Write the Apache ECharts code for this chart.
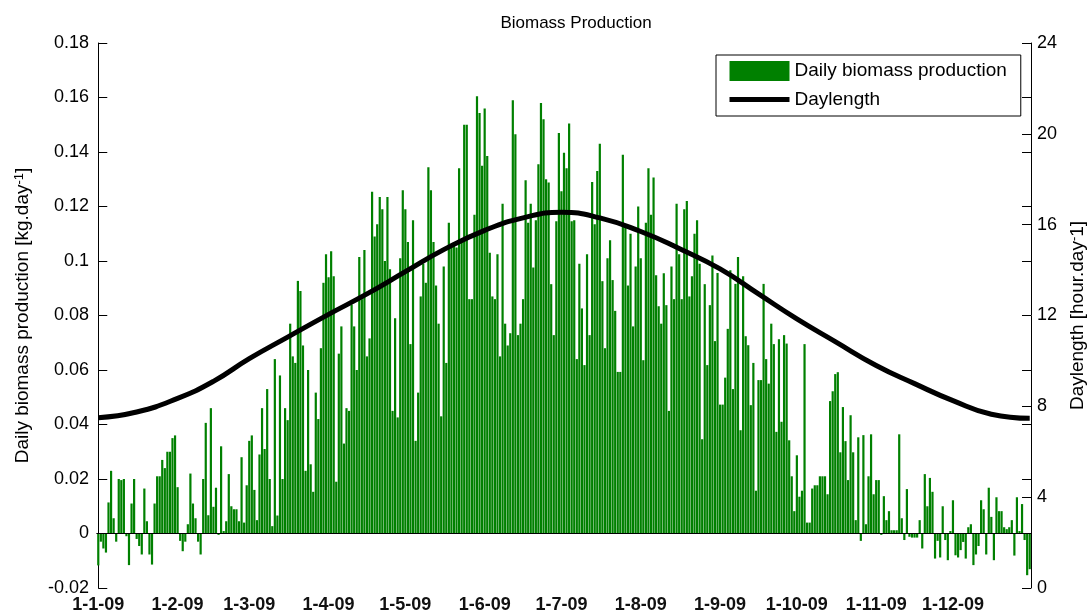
<!DOCTYPE html>
<html>
<head>
<meta charset="utf-8">
<title>Biomass Production</title>
<script src="https://cdn.jsdelivr.net/npm/echarts@6/dist/echarts.min.js"></script>
<style>
html, body { margin: 0; padding: 0; background: #fff; }
#main { width: 1092px; height: 616px; }
</style>
</head>
<body>
<div id="main"></div>
<script>
// 月份天数和x轴刻度标签
var monthDays = [31, 28, 31, 30, 31, 30, 31, 31, 30, 31, 30, 31];
var monthLabels = ['1-1-09', '1-2-09', '1-3-09', '1-4-09', '1-5-09', '1-6-09',
                   '1-7-09', '1-8-09', '1-9-09', '1-10-09', '1-11-09', '1-12-09'];
var leftTicks = [-0.02, 0.18, 0.02];   // min, max, interval
var rightTicks = [0, 24, 4];

// 每日生物量 kg/day (2009-01-01 .. 2009-12-31)
var biomass = [
  -0.0117, -0.003, -0.0055, -0.007, 0.0114, 0.023, 0.0056, -0.003, 0.020, 0.0196,
  0.020, -0.001, -0.0116, 0.011, 0.020, -0.002, -0.0046, -0.0077, 0.0165, 0.0045,
  -0.0077, -0.0114, 0.011, 0.021, 0.021, 0.027, 0.024, 0.030, 0.030, 0.035,
  0.036, 0.017, -0.0027, -0.0065, -0.003, 0.0034, 0.022, 0.011, 0.0056, -0.003,
  -0.0077, 0.020, 0.0406, 0.0067, 0.046, 0.0098, 0.0168, -0.0005, 0.032, 0.0009,
  0.0045, 0.0218, 0.010, 0.0089, 0.0089, 0.0045, 0.028, 0.004, 0.0177, 0.034,
  0.036, 0.016, 0.0049, 0.029, 0.046, 0.031, 0.053, 0.020, 0.0027, 0.064,
  0.0066, 0.058, 0.020, 0.046, 0.0416, 0.077, 0.065, 0.0626, 0.0927, 0.089,
  0.069, 0.023, 0.060, 0.0254, 0.0153, 0.0517, 0.042, 0.068, 0.092, 0.1025,
  0.094, 0.1036, 0.0944, 0.019, 0.066, 0.076, 0.033, 0.046, 0.045, 0.084,
  0.076, 0.060, 0.1015, 0.086, 0.104, 0.065, 0.0716, 0.1254, 0.109, 0.1135,
  0.1235, 0.119, 0.100, 0.1235, 0.097, 0.045, 0.079, 0.0426, 0.101, 0.126,
  0.119, 0.107, 0.0695, 0.115, 0.034, 0.0517, 0.087, 0.099, 0.092, 0.1344,
  0.126, 0.107, 0.091, 0.077, 0.043, 0.098, 0.0626, 0.114, 0.106, 0.107,
  0.105, 0.134, 0.107, 0.150, 0.150, 0.086, 0.086, 0.117, 0.1605, 0.1543,
  0.135, 0.156, 0.1385, 0.103, 0.087, 0.086, 0.1025, 0.065, 0.121, 0.077,
  0.069, 0.0735, 0.159, 0.1465, 0.0728, 0.077, 0.086, 0.1296, 0.114, 0.121,
  0.0976, 0.115, 0.1355, 0.158, 0.152, 0.130, 0.1288, 0.0915, 0.0728, 0.1146,
  0.147, 0.1256, 0.1397, 0.134, 0.1505, 0.1146, 0.115, 0.064, 0.099, 0.0826,
  0.0618, 0.1025, 0.0728, 0.129, 0.1135, 0.133, 0.143, 0.0926, 0.068, 0.101,
  0.1076, 0.093, 0.0817, 0.0593, 0.0593, 0.139, 0.1125, 0.091, 0.110, 0.076,
  0.098, 0.120, 0.101, 0.0636, 0.114, 0.134, 0.117, 0.1306, 0.0948, 0.0834,
  0.077, 0.0955, 0.0838, 0.045, 0.098, 0.086, 0.121, 0.1025, 0.086, 0.119,
  0.122, 0.087, 0.0944, 0.110, 0.115, 0.099, 0.0346, 0.0915, 0.0618, 0.0838,
  0.102, 0.0706, 0.0956, 0.0473, 0.0473, 0.0572, 0.0751, 0.0966, 0.053, 0.0916,
  0.1015, 0.0379, 0.0944, 0.0724, 0.0691, 0.0471, 0.0626, 0.0157, 0.0563, 0.0563,
  0.0916, 0.064, 0.055, 0.077, 0.0695, 0.0373, 0.0713, 0.041, 0.0728, 0.0697,
  0.0342, 0.021, 0.0082, 0.0287, 0.0135, 0.0157, 0.0695, 0.004, 0.004, 0.0165,
  0.0177, 0.0177, 0.021, 0.021, 0.021, 0.0144, 0.0486, 0.0522, 0.0585, 0.0592,
  0.0298, 0.0464, 0.0339, 0.0196, 0.0434, 0.0298, 0.0049, 0.0353, -0.0027, 0.0361,
  0.0034, 0.021, 0.0364, 0.0144, 0.0196, 0.0196, -0.0005, 0.0137, 0.0049, 0.0082,
  0.0012, 0.0012, 0.0012, 0.0364, 0.0056, -0.0024, 0.0163, -0.0012, -0.0015, -0.0015,
  -0.0015, 0.0049, -0.0055, 0.0218, 0.010, 0.0204, 0.0153, -0.0092, -0.0027, -0.0088,
  0.010, -0.0024, -0.0098, 0.0009, 0.0122, -0.008, -0.0088, -0.0061, -0.0031, -0.0092,
  0.0023, 0.0034, -0.0116, -0.0077, -0.0046, 0.0122, 0.0089, -0.0077, 0.0168, 0.0061,
  -0.0098, 0.0133, 0.0082, 0.0082, 0.0023, 0.0016, 0.0023, 0.0049, -0.0081, 0.0133,
  0.0009, 0.0108, -0.0024, -0.0153, -0.0131
];

// 日照时长 hour/day, 按天序号取样
var dayIndex = [0, 15, 31, 45, 59, 74, 90, 105, 120, 135, 151, 166, 181,
                196, 212, 227, 243, 258, 273, 288, 304, 319, 334, 349, 364];
var dayHours = [7.50, 7.75, 8.35, 9.1, 10.1, 11.05, 12.05, 12.95, 13.93, 14.9, 15.75, 16.3, 16.55,
                16.3, 15.7, 14.95, 14.05, 12.95, 11.85, 10.85, 9.8, 9.0, 8.25, 7.65, 7.47];

// 组装日期类目
var days = [];
for (var m = 0; m < 12; m++) {
  for (var d = 1; d <= monthDays[m]; d++) {
    days.push(d + '-' + (m + 1) + '-09');
  }
}
var dayLine = [];
for (var i = 0; i < dayIndex.length; i++) {
  dayLine.push([dayIndex[i], dayHours[i]]);
}

function isMonthStart(index, value) {
  return monthLabels.indexOf(value) >= 0;
}

var font = 'Liberation Sans, Arial, sans-serif';
var myChart = echarts.init(document.getElementById('main'));

var option = {
  animation: false,
  backgroundColor: '#fff',
  textStyle: { fontFamily: font, color: '#000' },
  title: {
    text: 'Biomass Production',
    left: 571,
    textAlign: 'center',
    top: 10,
    textStyle: { fontFamily: font, fontSize: 17, fontWeight: 'normal', color: '#000' }
  },
  legend: {
    orient: 'vertical',
    left: 716,
    top: 55,
    padding: [6, 14, 7, 11],
    itemGap: 9,
    itemWidth: 60,
    itemHeight: 20,
    backgroundColor: '#fff',
    borderColor: '#000',
    borderWidth: 1,
    borderRadius: 0,
    lineStyle: { width: 5 },
    textStyle: { fontFamily: font, fontSize: 19, color: '#000' },
    data: [
      { name: 'Daily biomass production', icon: 'rect' },
      // 图例里不要圆点
      { name: 'Daylength', itemStyle: { color: 'rgba(0,0,0,0)', borderColor: 'rgba(0,0,0,0)', borderWidth: 0 } }
    ]
  },
  grid: { left: 97, right: 61, top: 43, bottom: 28, containLabel: false, outerBoundsMode: 'none' },
  xAxis: [
    {
      type: 'category',
      data: days,
      position: 'bottom',
      boundaryGap: true,
      axisLine: { lineStyle: { color: '#000', width: 1 } },
      axisTick: { inside: true, length: 9, interval: isMonthStart, alignWithLabel: true,
                  lineStyle: { color: '#000' } },
      axisLabel: { interval: isMonthStart, margin: 8, fontFamily: font, fontSize: 18,
                   fontWeight: 'bold', color: '#111' },
      splitLine: { show: false }
    },
    {
      type: 'value',
      min: -0.5,
      max: 364.5,
      show: false
    },
    {
      type: 'category',
      data: days,
      position: 'top',
      boundaryGap: true,
      axisLine: { lineStyle: { color: '#000', width: 1 } },
      axisTick: { inside: true, length: 9, interval: isMonthStart, alignWithLabel: true,
                  lineStyle: { color: '#000' } },
      axisLabel: { show: false },
      splitLine: { show: false }
    }
  ],
  yAxis: [
    {
      type: 'value',
      position: 'left',
      min: leftTicks[0],
      max: leftTicks[1],
      interval: leftTicks[2],
      name: 'Daily biomass production [kg.day{sup|-1}]',
      nameLocation: 'middle',
      nameRotate: 90,
      nameGap: 65,
      nameTextStyle: {
        fontFamily: font, fontSize: 19, color: '#000',
        rich: { sup: { fontFamily: font, fontSize: 13, verticalAlign: 'top', color: '#000' } }
      },
      axisLine: { show: true, lineStyle: { color: '#000', width: 1 } },
      axisTick: { show: true, inside: true, length: 9, lineStyle: { color: '#000' } },
      axisLabel: { margin: 8, fontFamily: font, fontSize: 18, color: '#000' },
      splitLine: { show: false }
    },
    {
      type: 'value',
      position: 'right',
      min: rightTicks[0],
      max: rightTicks[1],
      interval: rightTicks[2],
      name: 'Daylength [hour.day{sup|-}1]',
      nameLocation: 'middle',
      nameRotate: 90,
      nameGap: 36,
      nameTextStyle: {
        fontFamily: font, fontSize: 19, color: '#000',
        rich: { sup: { fontFamily: font, fontSize: 13, verticalAlign: 'top', color: '#000' } }
      },
      axisLine: { show: true, lineStyle: { color: '#000', width: 1 } },
      axisTick: { show: true, inside: true, length: 9, lineStyle: { color: '#000' } },
      axisLabel: { margin: 6, fontFamily: font, fontSize: 18, color: '#000' },
      splitLine: { show: false }
    },
    {
      // 左轴刻度在右侧的镜像
      type: 'value',
      position: 'right',
      min: leftTicks[0],
      max: leftTicks[1],
      interval: leftTicks[2],
      axisLine: { show: false },
      axisTick: { show: true, inside: true, length: 9, lineStyle: { color: '#000' } },
      axisLabel: { show: false },
      splitLine: { show: false }
    }
  ],
  series: [
    {
      name: 'Daily biomass production',
      type: 'bar',
      xAxisIndex: 0,
      yAxisIndex: 0,
      data: biomass,
      barWidth: '86%',
      itemStyle: { color: '#008000' },
      markLine: {
        silent: true,
        symbol: ['none', 'none'],
        label: { show: false },
        lineStyle: { color: '#000', width: 1, type: 'solid' },
        data: [{ yAxis: 0 }]
      }
    },
    {
      name: 'Daylength',
      type: 'line',
      xAxisIndex: 1,
      yAxisIndex: 1,
      data: dayLine,
      smooth: true,
      symbol: 'none',
      lineStyle: { color: '#000', width: 5 },
      itemStyle: { color: '#000' },
      z: 5
    }
  ]
};

myChart.setOption(option);
</script>
</body>
</html>
